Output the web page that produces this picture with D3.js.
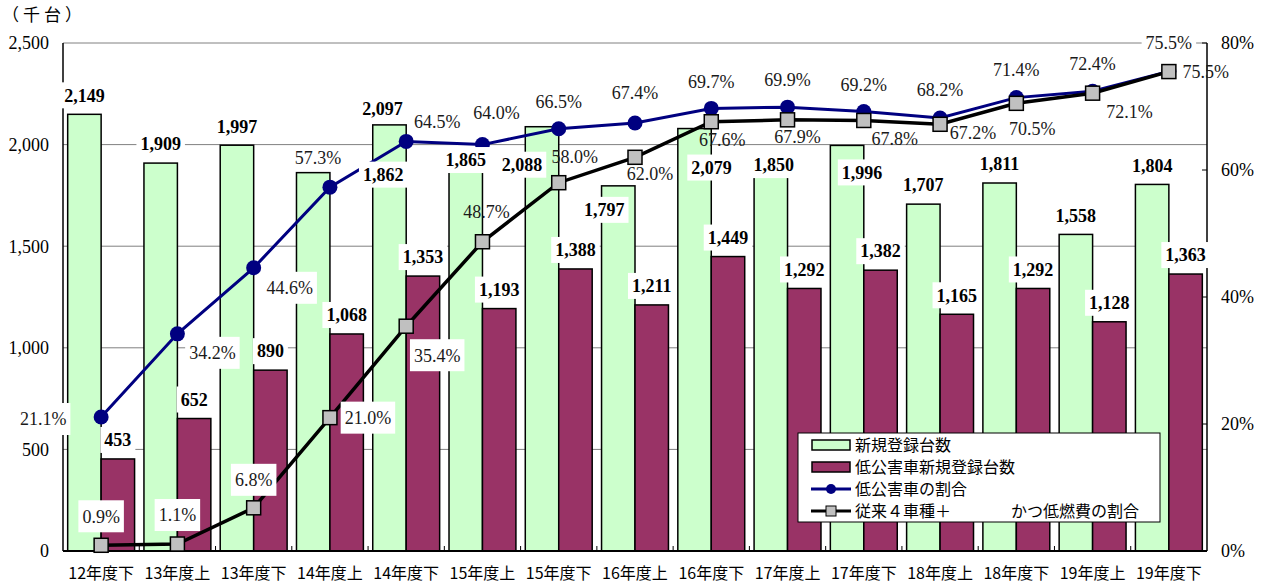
<!DOCTYPE html>
<meta charset="utf-8">
<style>
body { margin: 0; background: #fff; }
</style>
<body>
<svg width="1265" height="583" style="font-family: 'Liberation Serif', 'Times New Roman', 'DejaVu Serif', serif;"></svg>
<script src="https://d3js.org/d3.v7.min.js"></script>
<script>
// periods (half years)
var periods = ["12年度下", "13年度上", "13年度下", "14年度上", "14年度下", "15年度上", "15年度下",
  "16年度上", "16年度下", "17年度上", "17年度下", "18年度上", "18年度下", "19年度上", "19年度下"];

// 新規登録台数 (thousand units)
var newRegs = [2149, 1909, 1997, 1862, 2097, 1865, 2088, 1797, 2079, 1850, 1996, 1707, 1811, 1558, 1804];
// 低公害車新規登録台数
var lowRegs = [453, 652, 890, 1068, 1353, 1193, 1388, 1211, 1449, 1292, 1382, 1165, 1292, 1128, 1363];
// 低公害車の割合 (%)
var lowShare = [21.1, 34.2, 44.6, 57.3, 64.5, 64.0, 66.5, 67.4, 69.7, 69.9, 69.2, 68.2, 71.4, 72.4, 75.5];
// 従来4車種+かつ低燃費の割合 (%)
var fuelShare = [0.9, 1.1, 6.8, 21.0, 35.4, 48.7, 58.0, 62.0, 67.6, 67.9, 67.8, 67.2, 70.5, 72.1, 75.5];

var leftTicks = [0, 500, 1000, 1500, 2000, 2500];
var rightTicks = [0, 20, 40, 60, 80];

// hand-placed label nudges, like in the original sheet
var newLabelShift = {3: [70, 2], 4: [-7, -16], 5: [0, -12], 6: [-20, 38], 7: [-14, 24], 8: [17, 39], 9: [3, -10], 10: [15, 27]};
var lowShareShift = [[-58, 2], [35, 19], [36, 20], [-12, -29], [31, -20], [14, -32], [0, -27], [0, -30],
  [0, -27], [0, -27], [0, -27], [0, -28], [0, -28], [0, -28], [0, -29]];
var fuelShareShift = [[0, -29], [0, -29], [0, -28], [38, 0], [31, 29], [4, -30], [16, -26], [15, 16],
  [11, 18], [10, 17], [31, 18], [33, 8], [16, 25], [37, 19], [37, 0]];
var lowShareBoxed = [0, 1, 2, 14];
var fuelShareBoxed = [0, 1, 2, 3, 4];

var SERIF = "'Liberation Serif', 'Times New Roman', 'DejaVu Serif', serif";
var JP = "'Noto Sans CJK JP', 'Noto Sans CJK SC', sans-serif";

var svg = d3.select("svg");
var pLeft = 63, pRight = 1207, pTop = 43, pBottom = 551;

var x = d3.scaleBand().domain(periods).range([pLeft, pRight]);
var x1 = d3.scaleBand().domain(["new", "low"]).range([0, x.bandwidth()]).paddingOuter(0.14);
var y = d3.scaleLinear().domain([0, 2500]).range([pBottom, pTop]);
var yr = d3.scaleLinear().domain([0, 80]).range([pBottom, pTop]);

// grid
svg.append("g").selectAll("line")
  .data(leftTicks.slice(1))
  .enter().append("line")
    .attr("x1", pLeft).attr("x2", pRight)
    .attr("y1", function(d) { return y(d); }).attr("y2", function(d) { return y(d); })
    .attr("stroke", "#808080").attr("stroke-width", 1);

// bars
var grp = svg.append("g").selectAll("g")
  .data(periods)
  .enter().append("g")
    .attr("transform", function(d) { return "translate(" + x(d) + ",0)"; });

grp.append("rect")
    .attr("x", x1("new")).attr("width", x1.bandwidth())
    .attr("y", function(d, i) { return y(newRegs[i]); })
    .attr("height", function(d, i) { return pBottom - y(newRegs[i]); })
    .attr("fill", "#CCFFCC").attr("stroke", "#000").attr("stroke-width", 1.5);

grp.append("rect")
    .attr("x", x1("low")).attr("width", x1.bandwidth())
    .attr("y", function(d, i) { return y(lowRegs[i]); })
    .attr("height", function(d, i) { return pBottom - y(lowRegs[i]); })
    .attr("fill", "#993366").attr("stroke", "#000").attr("stroke-width", 1.5);

// axes
var axisG = svg.append("g");
axisG.append("line").attr("x1", pLeft).attr("x2", pLeft).attr("y1", pTop).attr("y2", pBottom)
  .attr("stroke", "#000").attr("stroke-width", 1.5);
axisG.append("line").attr("x1", pRight).attr("x2", pRight).attr("y1", pTop).attr("y2", pBottom)
  .attr("stroke", "#000").attr("stroke-width", 1.5);
axisG.append("line").attr("x1", pLeft).attr("x2", pRight).attr("y1", pBottom).attr("y2", pBottom)
  .attr("stroke", "#000").attr("stroke-width", 2);

axisG.selectAll(".xt")
  .data(periods.slice(1))
  .enter().append("line")
    .attr("x1", function(d) { return x(d); }).attr("x2", function(d) { return x(d); })
    .attr("y1", pBottom - 5).attr("y2", pBottom)
    .attr("stroke", "#000");

axisG.selectAll(".rt")
  .data(rightTicks)
  .enter().append("line")
    .attr("x1", pRight - 5).attr("x2", pRight)
    .attr("y1", function(d) { return yr(d); }).attr("y2", function(d) { return yr(d); })
    .attr("stroke", "#000");

axisG.selectAll(".ly")
  .data(leftTicks)
  .enter().append("text")
    .attr("x", 49).attr("y", function(d) { return y(d); })
    .attr("dy", "0.35em").attr("text-anchor", "end")
    .attr("font-family", SERIF).attr("font-size", 18)
    .text(d3.format(","));

axisG.selectAll(".ry")
  .data(rightTicks)
  .enter().append("text")
    .attr("x", 1221).attr("y", function(d) { return yr(d); })
    .attr("dy", "0.35em")
    .attr("font-family", SERIF).attr("font-size", 18)
    .text(function(d) { return d + "%"; });

axisG.selectAll(".xl")
  .data(periods)
  .enter().append("text")
    .attr("x", function(d) { return x(d) + x.bandwidth() / 2; })
    .attr("y", 579)
    .attr("text-anchor", "middle")
    .attr("font-family", JP).attr("font-size", 16)
    .text(function(d) { return d; });

svg.append("text")
  .attr("x", 2).attr("y", 21)
  .attr("font-family", JP).attr("font-size", 17)
  .attr("textLength", 80).attr("lengthAdjust", "spacing")
  .text("（千台）");

// lines
function cx(i) { return x(periods[i]) + x.bandwidth() / 2; }

var shareLine = d3.line().x(function(d, i) { return cx(i); }).y(function(d) { return yr(d); });

svg.append("path").datum(lowShare)
  .attr("d", shareLine).attr("fill", "none")
  .attr("stroke", "#000080").attr("stroke-width", 3);
svg.append("g").selectAll("circle")
  .data(lowShare)
  .enter().append("circle")
    .attr("cx", function(d, i) { return cx(i); })
    .attr("cy", function(d) { return yr(d); })
    .attr("r", 7.5).attr("fill", "#000080");

svg.append("path").datum(fuelShare)
  .attr("d", shareLine).attr("fill", "none")
  .attr("stroke", "#000").attr("stroke-width", 3.5);
svg.append("g").selectAll("rect")
  .data(fuelShare)
  .enter().append("rect")
    .attr("x", function(d, i) { return cx(i) - 7; })
    .attr("y", function(d) { return yr(d) - 7; })
    .attr("width", 14).attr("height", 14)
    .attr("fill", "#C0C0C0").attr("stroke", "#000").attr("stroke-width", 1.5);

// labels
var labels = svg.append("g");
function label(txt, px, py, opt) {
  var g = labels.append("g");
  var box = g.append("rect").attr("fill", "#fff");
  var t = g.append("text")
    .attr("x", px).attr("y", py).attr("dy", "0.35em")
    .attr("text-anchor", "middle")
    .attr("font-family", SERIF).attr("font-size", 18)
    .attr("font-weight", opt.bold ? "bold" : "normal")
    .attr("fill", opt.bold ? "#000" : "#1a1a1a")
    .text(txt);
  if (opt.box) {
    var b = t.node().getBBox();
    box.attr("x", b.x - 4).attr("width", b.width + 8)
      .attr("y", py - opt.h / 2).attr("height", opt.h);
  } else {
    box.remove();
  }
}

var fmt = d3.format(",");
newRegs.forEach(function(v, i) {
  var s = newLabelShift[i] || [0, -19];
  label(fmt(v), x(periods[i]) + x1("new") + x1.bandwidth() / 2 + s[0], y(v) + s[1], {bold: true, box: true, h: 26});
});
lowRegs.forEach(function(v, i) {
  label(fmt(v), x(periods[i]) + x1("low") + x1.bandwidth() / 2, y(v) - 19, {bold: true, box: true, h: 26});
});
lowShare.forEach(function(v, i) {
  var s = lowShareShift[i];
  label(v.toFixed(1) + "%", cx(i) + s[0], yr(v) + s[1], {box: lowShareBoxed.indexOf(i) >= 0, h: 32});
});
fuelShare.forEach(function(v, i) {
  var s = fuelShareShift[i];
  label(v.toFixed(1) + "%", cx(i) + s[0], yr(v) + s[1], {box: fuelShareBoxed.indexOf(i) >= 0, h: 32});
});

// legend
var lg = svg.append("g");
lg.append("rect").attr("x", 798).attr("y", 433).attr("width", 362).attr("height", 89)
  .attr("fill", "#fff").attr("stroke", "#000").attr("stroke-width", 1);
var rows = [445, 467, 489, 511];
lg.append("rect").attr("x", 812).attr("y", rows[0] - 5).attr("width", 38).attr("height", 10)
  .attr("fill", "#CCFFCC").attr("stroke", "#000").attr("stroke-width", 1.5);
lg.append("rect").attr("x", 812).attr("y", rows[1] - 5).attr("width", 38).attr("height", 10)
  .attr("fill", "#993366").attr("stroke", "#000").attr("stroke-width", 1.5);
lg.append("line").attr("x1", 811).attr("x2", 851).attr("y1", rows[2]).attr("y2", rows[2])
  .attr("stroke", "#000080").attr("stroke-width", 3);
lg.append("circle").attr("cx", 831).attr("cy", rows[2]).attr("r", 5).attr("fill", "#000080");
lg.append("line").attr("x1", 811).attr("x2", 851).attr("y1", rows[3]).attr("y2", rows[3])
  .attr("stroke", "#000").attr("stroke-width", 3);
lg.append("rect").attr("x", 826).attr("y", rows[3] - 5).attr("width", 10).attr("height", 10)
  .attr("fill", "#C0C0C0").attr("stroke", "#000").attr("stroke-width", 1);

var legText = ["新規登録台数", "低公害車新規登録台数", "低公害車の割合", "従来４車種＋"];
legText.forEach(function(s, i) {
  lg.append("text").attr("x", 855).attr("y", rows[i]).attr("dy", "0.35em")
    .attr("font-family", JP).attr("font-size", 16).text(s);
});
lg.append("text").attr("x", 1011).attr("y", rows[3]).attr("dy", "0.35em")
  .attr("font-family", JP).attr("font-size", 16).text("かつ低燃費の割合");
</script>
</body>
